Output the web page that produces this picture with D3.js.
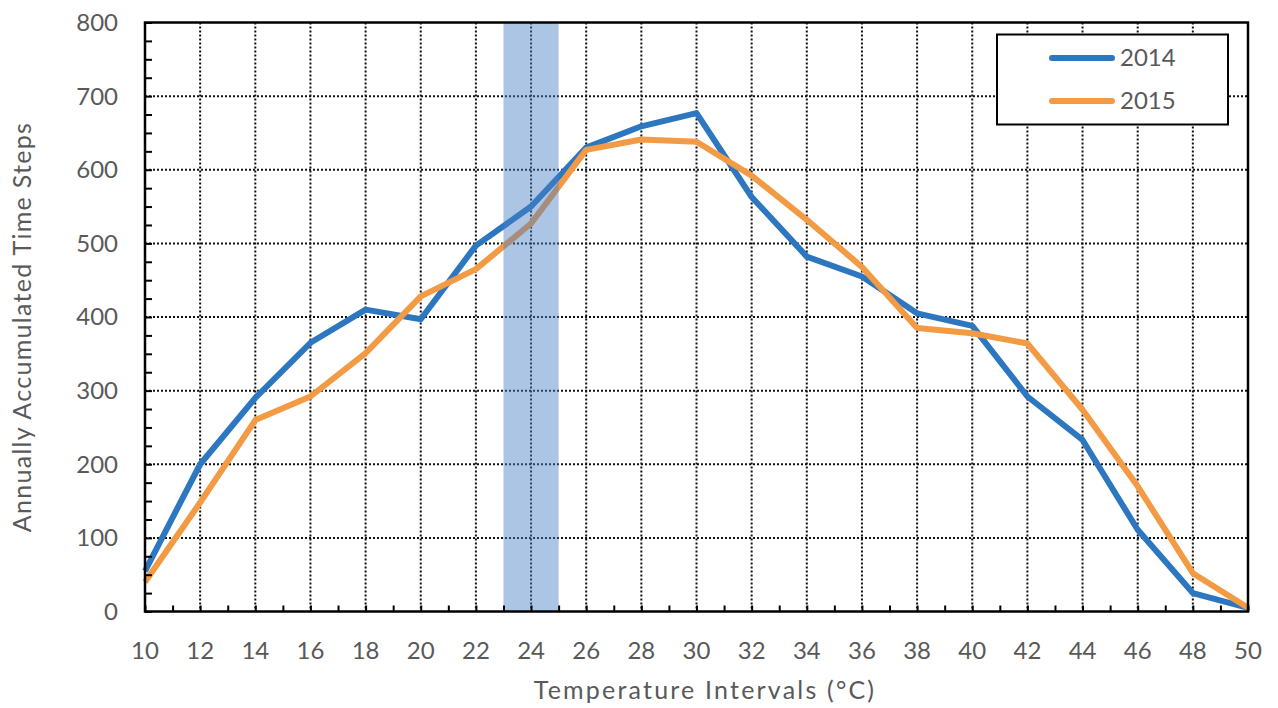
<!DOCTYPE html>
<html>
<head>
<meta charset="utf-8">
<script src="https://cdn.jsdelivr.net/npm/d3@7"></script>
<style>
  body { margin: 0; background: #fff; }
  text { font-family: Lato, "Open Sans", sans-serif; fill: #595959; }
</style>
</head>
<body>
<div id="chart"></div>
<script>
// Data
const temps = [10, 12, 14, 16, 18, 20, 22, 24, 26, 28, 30, 32, 34, 36, 38, 40, 42, 44, 46, 48, 50];
const steps2014 = [55, 200, 290, 365, 410, 397, 497, 550, 630, 659, 677, 563, 482, 455, 405, 388, 292, 233, 111, 25, 5];
const steps2015 = [40, 148, 260, 292, 351, 428, 465, 527, 627, 641, 638, 592, 532, 468, 385, 378, 364, 274, 170, 52, 5];
const seriesNames = ['2014', '2015'];
const yTicks = [0, 100, 200, 300, 400, 500, 600, 700, 800];
const band = [23, 25];

const width = 1278, height = 708;
const margin = { left: 145, right: 30, top: 22.5, bottom: 96.5 };
const colors = ['#2d77c0', '#f39a44'];

const svg = d3.select('#chart').append('svg')
  .attr('width', width)
  .attr('height', height);

const x = d3.scaleLinear().domain([10, 50]).range([margin.left, width - margin.right]);
const y = d3.scaleLinear().domain([0, 800]).range([height - margin.bottom, margin.top]);

// dotted grid
svg.append('g')
  .selectAll('line')
  .data(temps.slice(1, -1))
  .join('line')
  .attr('x1', d => x(d)).attr('x2', d => x(d))
  .attr('y1', y(800)).attr('y2', y(0))
  .attr('stroke', '#111').attr('stroke-width', 2).attr('stroke-dasharray', '2,2');
svg.append('g')
  .selectAll('line')
  .data(yTicks.slice(1, -1))
  .join('line')
  .attr('x1', x(10)).attr('x2', x(50))
  .attr('y1', d => y(d)).attr('y2', d => y(d))
  .attr('stroke', '#111').attr('stroke-width', 2).attr('stroke-dasharray', '2,2');

// series lines
const line = d3.line().x((d, i) => x(temps[i])).y(d => y(d));
[steps2014, steps2015].forEach((s, i) => {
  svg.append('path')
    .datum(s)
    .attr('fill', 'none')
    .attr('stroke', colors[i])
    .attr('stroke-width', 6)
    .attr('stroke-linejoin', 'round')
    .attr('d', line);
});

// shaded interval, drawn over the lines
svg.append('rect')
  .attr('x', x(band[0]))
  .attr('width', x(band[1]) - x(band[0]))
  .attr('y', y(800))
  .attr('height', y(0) - y(800))
  .attr('fill', '#4a7fc4')
  .attr('opacity', 0.45);

// axes
const yAxis = svg.append('g')
  .attr('transform', `translate(${x(10)},0)`)
  .call(d3.axisRight(y).tickValues(d3.range(0, 801, 25)).tickSize(7).tickFormat(''));
yAxis.select('.domain').remove();
yAxis.selectAll('line').attr('stroke', '#000').attr('stroke-width', 2);

const xAxis = svg.append('g')
  .attr('transform', `translate(0,${y(0)})`)
  .call(d3.axisTop(x).tickValues(d3.range(10, 51, 1)).tickSize(6).tickFormat(''));
xAxis.select('.domain').remove();
xAxis.selectAll('line').attr('stroke', '#000').attr('stroke-width', 2);

// frame
svg.append('rect')
  .attr('x', x(10)).attr('y', y(800))
  .attr('width', x(50) - x(10)).attr('height', y(0) - y(800))
  .attr('fill', 'none').attr('stroke', '#000').attr('stroke-width', 2.5);

// tick labels
svg.append('g')
  .selectAll('text')
  .data(yTicks)
  .join('text')
  .attr('x', x(10) - 27)
  .attr('y', d => y(d))
  .attr('dy', '0.35em')
  .attr('text-anchor', 'end')
  .style('font-size', '24px')
  .text(d => d);
svg.append('g')
  .selectAll('text')
  .data(temps)
  .join('text')
  .attr('x', d => x(d))
  .attr('y', y(0) + 47)
  .attr('text-anchor', 'middle')
  .style('font-size', '24px')
  .text(d => d);

// axis titles
svg.append('text')
  .attr('x', 705).attr('y', 699)
  .attr('text-anchor', 'middle')
  .style('font-size', '25px')
  .style('letter-spacing', '2.2px')
  .text('Temperature Intervals (°C)');
svg.append('text')
  .attr('transform', `translate(31,327) rotate(-90)`)
  .attr('text-anchor', 'middle')
  .style('font-size', '25px')
  .style('letter-spacing', '1.3px')
  .text('Annually Accumulated Time Steps');

// legend
const lg = svg.append('g');
lg.append('rect')
  .attr('x', 997).attr('y', 34.5).attr('width', 231).attr('height', 90)
  .attr('fill', '#fff').attr('stroke', '#000').attr('stroke-width', 2);
seriesNames.forEach((n, i) => {
  const ly = 58 + i * 43;
  lg.append('line')
    .attr('x1', 1052).attr('x2', 1112).attr('y1', ly).attr('y2', ly)
    .attr('stroke', colors[i]).attr('stroke-width', 6).attr('stroke-linecap', 'round');
  lg.append('text')
    .attr('x', 1120).attr('y', ly).attr('dy', '0.35em')
    .style('font-size', '24px')
    .text(n);
});
</script>
</body>
</html>
